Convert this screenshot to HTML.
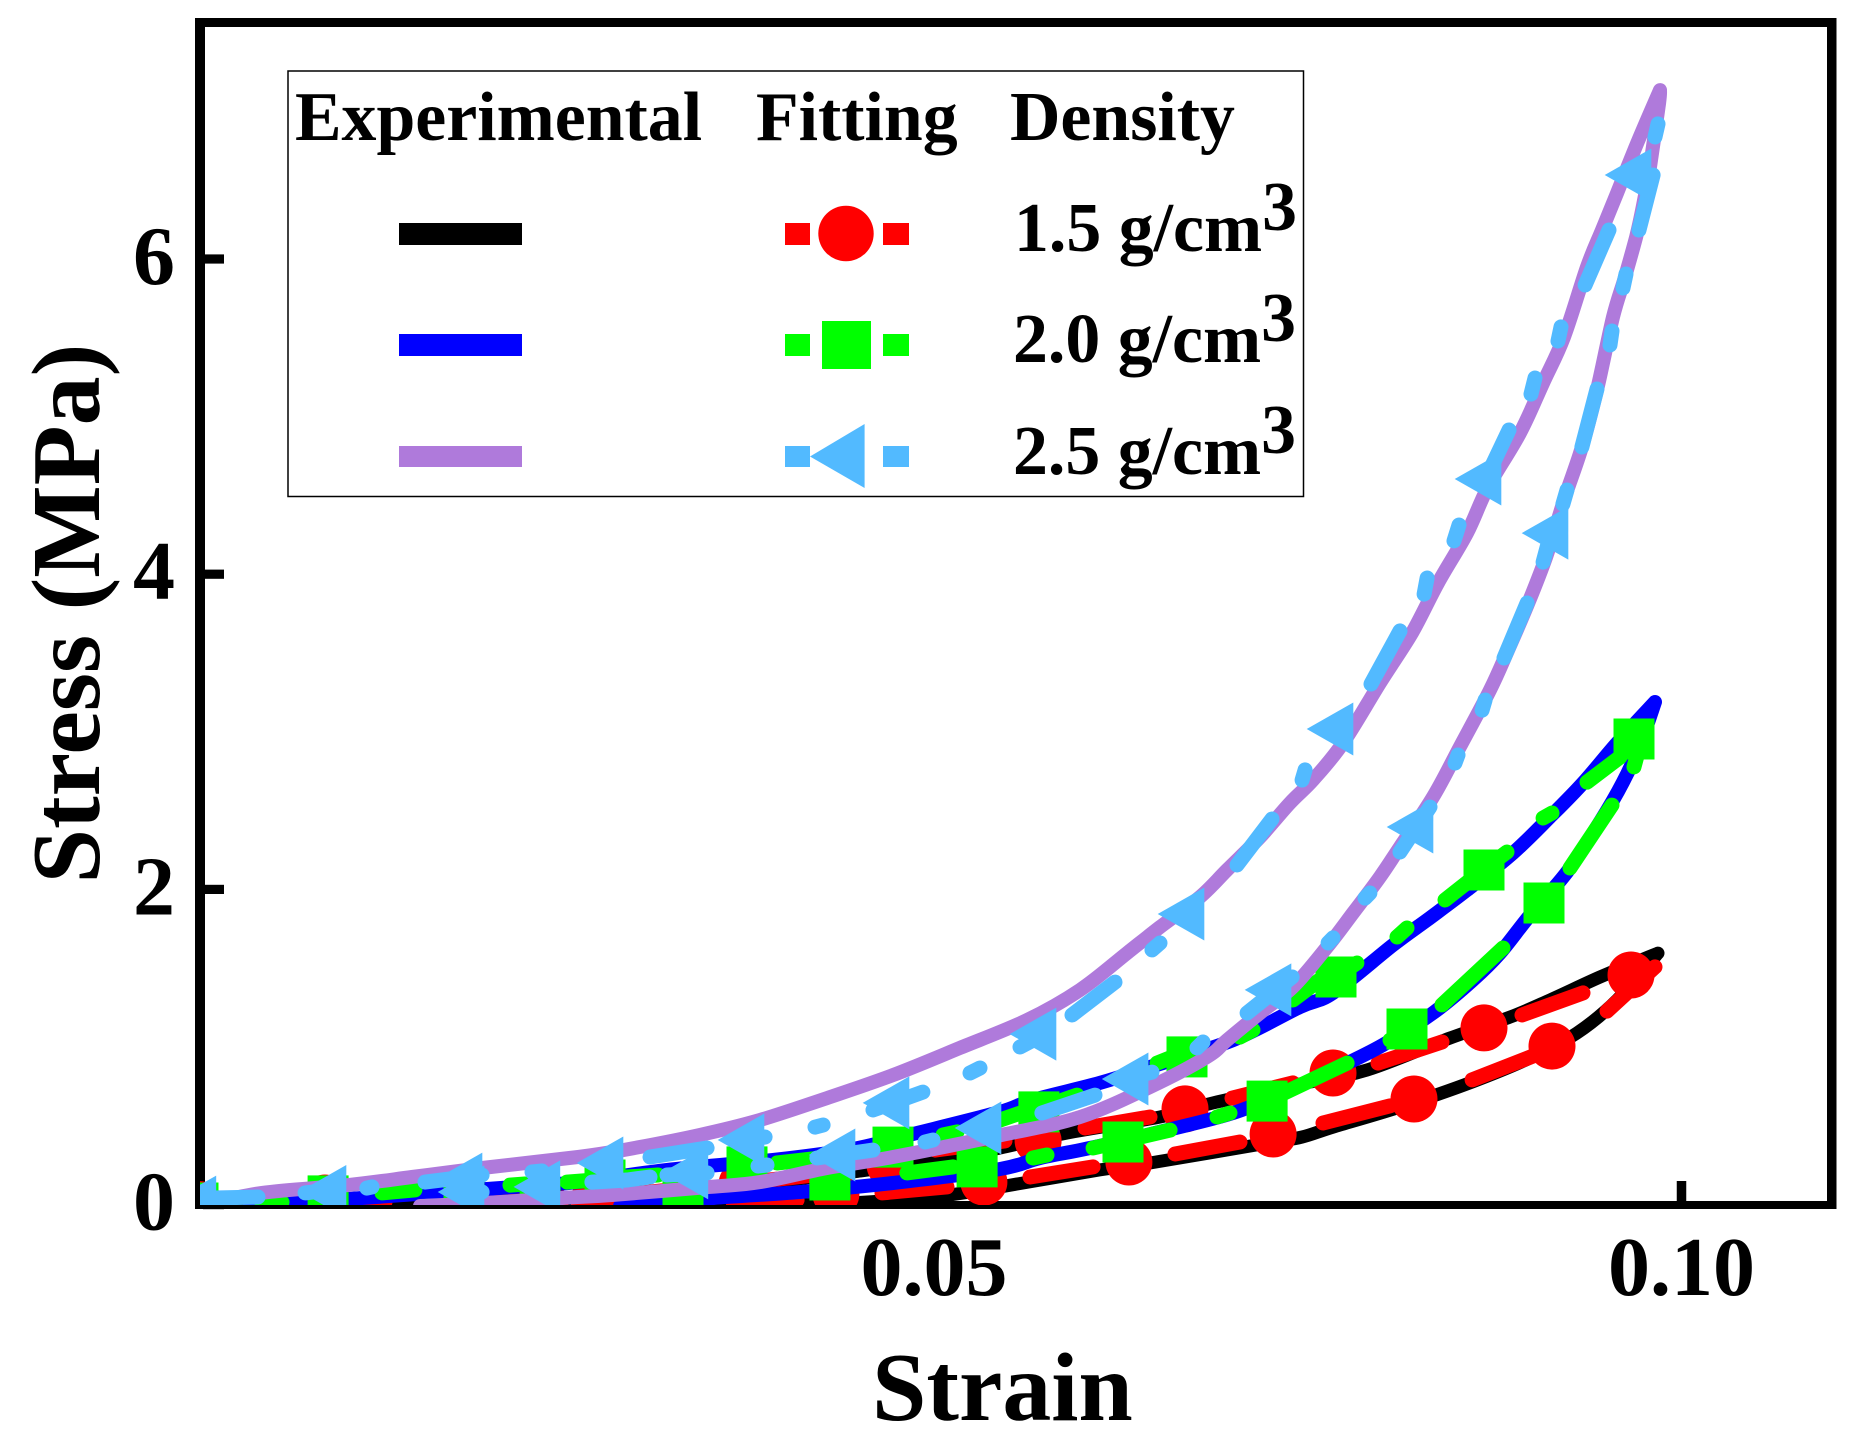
<!DOCTYPE html>
<html lang="en">
<head>
<meta charset="utf-8">
<title>Stress vs Strain hysteresis</title>
<style>
html,body{margin:0;padding:0;background:#fff;}
svg{display:block;}
text{font-family:"Liberation Serif","Times New Roman",serif;font-weight:bold;fill:#000;}
</style>
</head>
<body>
<svg id="chart" xmlns="http://www.w3.org/2000/svg" width="1866" height="1444" viewBox="0 0 1866 1444">
  <defs>
    <clipPath id="plot-clip"><rect x="200" y="22" width="1632" height="1183"></rect></clipPath>
  </defs>
  <rect x="0" y="0" width="1866" height="1444" fill="#fff"></rect>
  <g id="ticks"></g>
  <g fill="#000">
    <rect x="195" y="18" width="10" height="1191"></rect>
    <rect x="1827" y="18" width="9.5" height="1191"></rect>
    <rect x="195" y="18" width="1641" height="9"></rect>
    <rect x="195" y="1201" width="1641" height="8"></rect>
  </g>
  <g id="series" clip-path="url(#plot-clip)"></g>
  <text x="872" y="1420" font-size="97.8">Strain</text>
  <text transform="translate(99 883.5) rotate(-90)" x="0" y="0" font-size="98">Stress (MPa)</text>

  <g>
    <rect x="288" y="71" width="1015.5" height="425.5" fill="#fff" stroke="#000" stroke-width="1.5"></rect>
    <text x="295" y="140" font-size="69.8">Experimental</text>
    <text x="756" y="140" font-size="69.8">Fitting</text>
    <text x="1010" y="140" font-size="69.8">Density</text>

    <rect x="399" y="223" width="123" height="22" fill="#000"></rect>
    <rect x="399" y="334" width="123" height="22" fill="#0000ff"></rect>
    <rect x="399" y="446" width="123" height="21" fill="#af7adb"></rect>

    <g fill="#ff0000">
      <rect x="785" y="223" width="25" height="22"></rect>
      <rect x="883" y="223" width="26" height="22"></rect>
      <circle cx="846" cy="233.5" r="27.7"></circle>
    </g>
    <g fill="#00ff00">
      <rect x="785" y="334" width="25" height="22"></rect>
      <rect x="883" y="334" width="26" height="22"></rect>
      <rect x="822" y="321" width="49" height="48"></rect>
    </g>
    <g fill="#52baff">
      <rect x="785" y="446" width="25" height="21"></rect>
      <rect x="883" y="446" width="26" height="21"></rect>
      <polygon points="810,456.5 864.6,424 864.6,488"></polygon>
    </g>

    <text x="1014" y="251" font-size="69.8">1.5 g/cm<tspan dy="-21">3</tspan></text>
    <text x="1013" y="362" font-size="69.8">2.0 g/cm<tspan dy="-21">3</tspan></text>
    <text x="1013" y="474" font-size="69.8">2.5 g/cm<tspan dy="-21">3</tspan></text>
  </g>
</svg>
<script>
// ---------- axis data ----------
const xTickValues = [0.05, 0.10];
const xTickLabels = ['0.05', '0.10'];
const yTickValues = [0, 2, 4, 6];
const yTickLabels = ['0', '2', '4', '6'];

// ---------- experimental curves (strain / stress in MPa) ----------
const black15UpperStrain = [0.01094,0.01615,0.02231,0.02766,0.03435,0.03970,0.04505,0.05040,0.05442,0.05890,0.06512,0.06866,0.07448,0.07896,0.08452,0.08853,0.09120,0.09455,0.09843];
const black15UpperStress = [-0.015,0.004,0.023,0.055,0.099,0.150,0.213,0.283,0.359,0.454,0.556,0.645,0.765,0.854,1.057,1.190,1.298,1.444,1.596];
const black15LowerStrain = [0.03903,0.04438,0.04993,0.05442,0.06110,0.06445,0.07228,0.07462,0.07669,0.08117,0.08599,0.08987,0.09301,0.09569,0.09843];
const black15LowerStress = [-0.009,0.010,0.048,0.112,0.220,0.264,0.390,0.429,0.492,0.619,0.778,0.930,1.089,1.298,1.596];

const blue20UpperStrain = [0.00425,0.00726,0.01174,0.02197,0.02619,0.03214,0.03923,0.04458,0.04886,0.05442,0.05662,0.06110,0.06445,0.07000,0.07448,0.07669,0.08070,0.08298,0.08565,0.08873,0.09120,0.09341,0.09569,0.09823];
const blue20UpperStress = [-0.009,0.010,0.042,0.112,0.143,0.220,0.283,0.353,0.454,0.588,0.664,0.772,0.873,1.044,1.254,1.343,1.647,1.806,1.996,2.231,2.459,2.675,2.929,3.189];
const blue20LowerStrain = [0.02900,0.03522,0.04104,0.04726,0.05442,0.05709,0.06043,0.06559,0.07000,0.07335,0.07669,0.08003,0.08338,0.08605,0.08786,0.08987,0.09234,0.09455,0.09609,0.09722,0.09823];
const blue20LowerStress = [-0.009,0.042,0.080,0.137,0.226,0.296,0.359,0.473,0.581,0.708,0.854,1.013,1.216,1.425,1.596,1.837,2.110,2.428,2.681,2.916,3.189];

const purple25UpperStrain = [0.00110,0.00505,0.01080,0.01508,0.01977,0.02619,0.02920,0.03435,0.03836,0.04284,0.04726,0.05174,0.05622,0.05977,0.06291,0.06512,0.06779,0.06960,0.07181,0.07381,0.07535,0.07736,0.07983,0.08197,0.08371,0.08565,0.08706,0.08920,0.09074,0.09214,0.09368,0.09468,0.09569,0.09676,0.09769,0.09856];
const purple25UpperStress = [-0.003,0.074,0.124,0.175,0.232,0.302,0.346,0.442,0.537,0.676,0.822,0.994,1.171,1.362,1.596,1.761,1.952,2.123,2.332,2.548,2.694,2.929,3.310,3.627,3.944,4.261,4.553,4.896,5.213,5.505,5.949,6.184,6.419,6.672,6.882,7.072];
const purple25LowerStrain = [0.01562,0.01997,0.02512,0.02846,0.03502,0.03836,0.04284,0.04726,0.05455,0.05977,0.06445,0.06826,0.06960,0.07181,0.07401,0.07629,0.07803,0.07983,0.08117,0.08338,0.08518,0.08719,0.08840,0.08967,0.09094,0.09221,0.09334,0.09435,0.09542,0.09622,0.09696,0.09743,0.09789,0.09850,0.09856];
const purple25LowerStress = [-0.009,0.010,0.042,0.061,0.112,0.143,0.232,0.302,0.442,0.556,0.746,0.937,1.044,1.216,1.381,1.634,1.850,2.079,2.269,2.586,2.904,3.265,3.519,3.798,4.109,4.490,4.807,5.169,5.632,5.886,6.139,6.342,6.584,6.990,7.072];

// ---------- fitting markers ----------
const redMarkerStrain = [0.09662,0.08679,0.07669,0.06679,0.05696,0.04706,0.03716,0.02726,0.01850,0.00926,0.00090,0.09134,0.08211,0.07268,0.06304,0.05334,0.04344,0.03375,0.02398];
const redMarkerStress = [1.457,1.121,0.835,0.607,0.404,0.251,0.131,0.029,0.029,0.042,0.000,1.006,0.670,0.448,0.270,0.143,0.067,0.010,-0.015];

const greenMarkerStrain = [0.09682,0.08679,0.07689,0.06692,0.05702,0.04726,0.03749,0.02799,0.01856,0.00947,0.00077,0.09080,0.08164,0.07228,0.06264,0.05288,0.04304,0.03321,0.02365];
const greenMarkerStress = [2.954,2.123,1.444,0.937,0.588,0.365,0.239,0.156,0.093,0.055,0.010,1.914,1.114,0.657,0.397,0.239,0.156,0.061,0.000];

const skyMarkerStrain = [0.09642,0.08639,0.07649,0.06652,0.05662,0.04679,0.03709,0.02766,0.01823,0.00913,0.00043,0.09087,0.08184,0.07234,0.06278,0.05294,0.04318,0.03334,0.02344,0.01836];
const skyMarkerStress = [6.533,4.604,3.018,1.844,1.082,0.645,0.410,0.264,0.162,0.083,0.016,4.261,2.396,1.362,0.797,0.486,0.315,0.201,0.112,0.080];

// ---------- fitting dash pieces: each consecutive pair of values is one drawn dash ----------
const redDashStrain = [0.09823,0.09502, 0.08933,0.09341, 0.08599,0.09094, 0.07602,0.08050, 0.06612,0.07047, 0.05642,0.06064, 0.06010,0.06445, 0.06993,0.07401, 0.07970,0.08398, 0.04652,0.05087, 0.03656,0.04084, 0.05007,0.05475, 0.03903,0.04371, 0.02900,0.03368, 0.02030,0.02498, 0.01080,0.01328];
const redDashStress = [1.508,1.228, 1.203,1.343, 0.791,0.975, 0.518,0.626, 0.321,0.397, 0.175,0.239, 0.486,0.556, 0.676,0.772, 0.898,1.032, 0.074,0.112, 0.016,0.029, 0.346,0.404, 0.156,0.207, 0.061,0.105, 0.023,0.048, 0.010,0.016];

const greenDashStrain = [0.09368,0.09589, 0.09682,0.09722, 0.09074,0.09134, 0.08672,0.08833, 0.08418,0.08672, 0.08097,0.08164, 0.07689,0.07829, 0.09254,0.09535, 0.08398,0.08806, 0.08050,0.08164, 0.06893,0.06980, 0.07228,0.07763, 0.06064,0.06579, 0.05662,0.05756, 0.07047,0.07134, 0.07401,0.07669, 0.06492,0.06712, 0.05442,0.05676, 0.05863,0.05957, 0.04819,0.05127, 0.05060,0.05154, 0.03950,0.04304, 0.02947,0.03154, 0.01308,0.01528, 0.02545,0.02732, 0.02164,0.02264, 0.00505,0.00639];
const greenDashStress = [2.681,2.840, 2.777,2.916, 2.453,2.485, 2.123,2.237, 1.933,2.123, 1.698,1.755, 1.444,1.533, 2.136,2.535, 1.267,1.628, 1.044,1.114, 0.556,0.581, 0.657,0.898, 0.359,0.473, 0.296,0.315, 1.063,1.108, 1.298,1.489, 0.898,0.981, 0.537,0.613, 0.664,0.695, 0.201,0.239, 0.442,0.461, 0.264,0.302, 0.175,0.188, 0.074,0.093, 0.143,0.156, 0.124,0.131, 0.010,0.016];

const skyDashStrain = [0.09843,0.09823, 0.09810,0.09716, 0.09515,0.09355, 0.09629,0.09609, 0.09535,0.09522, 0.09194,0.09174, 0.09020,0.08993, 0.09435,0.09334, 0.08846,0.08719, 0.09234,0.09207, 0.08512,0.08478, 0.09114,0.09074, 0.08298,0.08278, 0.08967,0.08813, 0.08117,0.07923, 0.08686,0.08666, 0.08505,0.08485, 0.08318,0.08117, 0.07916,0.07883, 0.07482,0.07462, 0.07261,0.07027, 0.06512,0.06458, 0.06211,0.05923, 0.05575,0.05662, 0.07669,0.07636, 0.07395,0.07094, 0.06799,0.06759, 0.06458,0.06278, 0.06077,0.05722, 0.05308,0.05241, 0.04926,0.04592, 0.04258,0.04204, 0.04993,0.04940, 0.04592,0.04217, 0.03870,0.03709, 0.03482,0.03100, 0.03883,0.03823, 0.03482,0.03214, 0.03100,0.02947, 0.01241,0.01207, 0.01977,0.01595, 0.02311,0.02378, 0.02712,0.02947, 0.00793,0.00960, 0.00478,0.00191, 0.01977,0.01897];
const skyDashStress = [6.857,6.774, 6.533,6.184, 6.184,5.835, 5.905,5.816, 5.543,5.454, 5.569,5.480, 5.245,5.143, 5.175,4.807, 4.915,4.661, 4.534,4.445, 4.312,4.211, 4.217,4.077, 3.976,3.874, 3.817,3.468, 3.640,3.303, 3.202,3.138, 2.853,2.802, 2.523,2.237, 1.977,1.945, 2.758,2.694, 2.447,2.155, 1.660,1.616, 1.412,1.203, 1.000,1.044, 1.692,1.660, 1.444,1.216, 1.032,0.994, 0.841,0.797, 0.695,0.581, 0.867,0.835, 0.714,0.600, 0.505,0.492, 0.410,0.397, 0.346,0.296, 0.429,0.410, 0.359,0.302, 0.251,0.245, 0.201,0.188, 0.175,0.156, 0.112,0.105, 0.188,0.143, 0.207,0.213, 0.143,0.156, 0.074,0.093, 0.048,0.042, 0.080,0.073];

// ---------- axis functions ----------
function xScale(strain) { return 186.5 + 14950 * strain; }
function yScale(stress) { return 1204.6 - 157.6 * stress; }

const SVG_NS = 'http://www.w3.org/2000/svg';
function make(tag, parent) {
  const el = document.createElementNS(SVG_NS, tag);
  parent.appendChild(el);
  return el;
}

// ---------- ticks ----------
const tickLayer = document.getElementById('ticks');
xTickValues.forEach(function (v, i) {
  const px = xScale(v);
  const tick = make('rect', tickLayer);
  
  
  tick.setAttribute('x', px - 4.75);
  tick.setAttribute('y', 1181);
  tick.setAttribute('width', 9.5);
  tick.setAttribute('height', 22);
  tick.setAttribute('fill', '#000');
  const label = make('text', tickLayer);
  
  
  label.setAttribute('x', px);
  label.setAttribute('y', 1295);
  label.setAttribute('font-size', 84);
  label.setAttribute('text-anchor', 'middle');
  label.textContent = xTickLabels[i];
});
yTickValues.forEach(function (v, i) {
  const py = yScale(v);
  const tick = make('rect', tickLayer);
  
  
  tick.setAttribute('x', 203);
  tick.setAttribute('y', py - 4.6);
  tick.setAttribute('width', 21);
  tick.setAttribute('height', 9.2);
  tick.setAttribute('fill', '#000');
  const label = make('text', tickLayer);
  
  
  label.setAttribute('x', 175);
  label.setAttribute('y', py + 25);
  label.setAttribute('font-size', 84);
  label.setAttribute('text-anchor', 'end');
  label.textContent = yTickLabels[i];
});

// ---------- series ----------
const seriesLayer = document.getElementById('series');

// Smooth curve through the scaled data points (Catmull-Rom to cubic Bezier)
function smoothBranch(strains, stresses) {
  const pts = strains.map(function (s, i) { return [xScale(s), yScale(stresses[i])]; });
  let d = 'M' + pts[0][0].toFixed(1) + ' ' + pts[0][1].toFixed(1);
  for (let i = 0; i < pts.length - 1; i++) {
    const p0 = pts[Math.max(0, i - 1)];
    const p1 = pts[i];
    const p2 = pts[i + 1];
    const p3 = pts[Math.min(pts.length - 1, i + 2)];
    const c1x = p1[0] + (p2[0] - p0[0]) / 6;
    const c1y = p1[1] + (p2[1] - p0[1]) / 6;
    const c2x = p2[0] - (p3[0] - p1[0]) / 6;
    const c2y = p2[1] - (p3[1] - p1[1]) / 6;
    d += 'C' + c1x.toFixed(1) + ' ' + c1y.toFixed(1) + ' ' + c2x.toFixed(1) + ' ' + c2y.toFixed(1) + ' ' + p2[0].toFixed(1) + ' ' + p2[1].toFixed(1);
  }
  return d;
}

function drawCurve(lowerX, lowerY, upperX, upperY, color, width) {
  const path = make('path', seriesLayer);
  path.setAttribute('d', smoothBranch(lowerX, lowerY) + smoothBranch(upperX, upperY));
  path.setAttribute('fill', 'none');
  path.setAttribute('stroke', color);
  path.setAttribute('stroke-width', width);
  path.setAttribute('stroke-linecap', 'round');
  path.setAttribute('stroke-linejoin', 'round');
  return path;
}

function drawDashes(strains, stresses, color, parent) {
  for (let i = 0; i + 1 < strains.length; i += 2) {
    const dash = make('line', parent);
    
    
    dash.setAttribute('x1', xScale(strains[i]).toFixed(1));
    dash.setAttribute('y1', yScale(stresses[i]).toFixed(1));
    dash.setAttribute('x2', xScale(strains[i + 1]).toFixed(1));
    dash.setAttribute('y2', yScale(stresses[i + 1]).toFixed(1));
    dash.setAttribute('stroke', color);
    dash.setAttribute('stroke-width', 15);
    dash.setAttribute('stroke-linecap', 'round');
  }
}

// 1.5 g/cm3
const blackCurve = drawCurve(black15LowerStrain, black15LowerStress, black15UpperStrain, black15UpperStress, '#000000', 13);



const redGroup = make('g', seriesLayer);


drawDashes(redDashStrain, redDashStress, '#ff0000', redGroup);
redMarkerStrain.forEach(function (s, i) {
  const c = make('circle', redGroup);
  
  
  c.setAttribute('cx', xScale(s).toFixed(1));
  c.setAttribute('cy', yScale(redMarkerStress[i]).toFixed(1));
  c.setAttribute('r', 23.5);
  c.setAttribute('fill', '#ff0000');
});

// 2.0 g/cm3
const blueCurve = drawCurve(blue20LowerStrain, blue20LowerStress, blue20UpperStrain, blue20UpperStress, '#0000ff', 14);



const greenGroup = make('g', seriesLayer);


drawDashes(greenDashStrain, greenDashStress, '#00ff00', greenGroup);
greenMarkerStrain.forEach(function (s, i) {
  const r = make('rect', greenGroup);
  
  
  r.setAttribute('x', (xScale(s) - 20.5).toFixed(1));
  r.setAttribute('y', (yScale(greenMarkerStress[i]) - 20.5).toFixed(1));
  r.setAttribute('width', 41);
  r.setAttribute('height', 41);
  r.setAttribute('fill', '#00ff00');
});

// 2.5 g/cm3
const purpleCurve = drawCurve(purple25LowerStrain, purple25LowerStress, purple25UpperStrain, purple25UpperStress, '#af7adb', 14);



const skyGroup = make('g', seriesLayer);


drawDashes(skyDashStrain, skyDashStress, '#52baff', skyGroup);
skyMarkerStrain.forEach(function (s, i) {
  const cx = xScale(s);
  const cy = yScale(skyMarkerStress[i]);
  const t = make('polygon', skyGroup);
  
  
  t.setAttribute('points', (cx - 23.3).toFixed(1) + ',' + cy.toFixed(1) + ' ' + (cx + 23.3).toFixed(1) + ',' + (cy - 26.5).toFixed(1) + ' ' + (cx + 23.3).toFixed(1) + ',' + (cy + 26.5).toFixed(1));
  t.setAttribute('fill', '#52baff');
});
</script>
</body>
</html>
